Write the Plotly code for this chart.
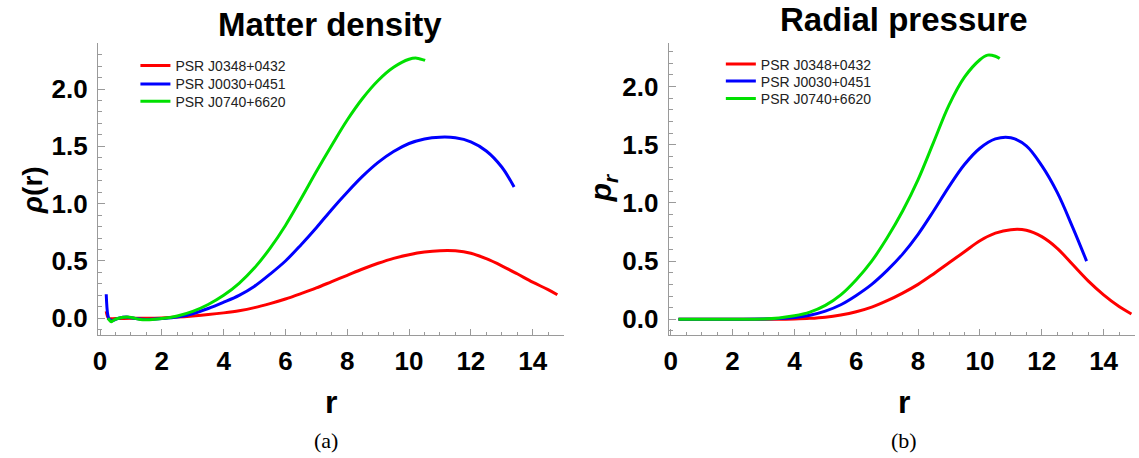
import plotly.graph_objects as go

W, H = 1139, 458

names = ["PSR J0348+0432", "PSR J0030+0451", "PSR J0740+6620"]
colors = ["#ff0000", "#0000ff", "#00e000"]

# ---- Matter density (left panel) ----
rho_red_x = [0.2, 0.28, 0.5, 1.0, 1.5, 2.0, 2.5, 3.0, 3.5, 4.0, 4.5, 5.0, 5.5, 6.0, 6.5, 7.0, 7.5, 8.0, 8.5, 9.0, 9.5, 10.0, 10.5, 11.0, 11.5, 12.0, 12.5, 13.0, 13.5, 14.0, 14.5, 14.8]
rho_red_y = [0.06, 0.0, -0.003, 0.0, 0.0, 0.003, 0.01, 0.02, 0.032, 0.047, 0.066, 0.093, 0.128, 0.168, 0.215, 0.265, 0.32, 0.375, 0.43, 0.48, 0.523, 0.555, 0.578, 0.59, 0.589, 0.568, 0.52, 0.458, 0.388, 0.315, 0.25, 0.205]

rho_blue_x = [0.2, 0.25, 0.3, 0.4, 0.6, 0.85, 1.1, 1.5, 2.0, 2.5, 3.0, 3.5, 4.0, 4.5, 5.0, 5.5, 6.0, 6.5, 7.0, 7.5, 8.0, 8.5, 9.0, 9.5, 10.0, 10.5, 11.0, 11.5, 12.0, 12.5, 13.0, 13.4]
rho_blue_y = [0.21, 0.03, -0.01, -0.02, 0.0, 0.01, 0.0, -0.01, -0.003, 0.01, 0.04, 0.085, 0.14, 0.2, 0.28, 0.385, 0.5, 0.64, 0.79, 0.95, 1.1, 1.24, 1.36, 1.455, 1.525, 1.565, 1.58, 1.575, 1.54, 1.46, 1.32, 1.145]

rho_green_x = [0.25, 0.3, 0.36, 0.45, 0.6, 0.75, 0.9, 1.05, 1.3, 1.6, 2.0, 2.5, 3.0, 3.5, 4.0, 4.5, 5.0, 5.5, 6.0, 6.5, 7.0, 7.5, 8.0, 8.5, 9.0, 9.5, 10.0, 10.25, 10.52]
rho_green_y = [0.0, -0.015, -0.03, -0.015, 0.0, 0.008, 0.012, 0.005, -0.01, -0.012, -0.003, 0.02, 0.06, 0.12, 0.2, 0.305, 0.44, 0.61, 0.81, 1.04, 1.28, 1.51, 1.73, 1.92, 2.075, 2.19, 2.26, 2.27, 2.25]

# ---- Radial pressure (right panel) ----
pr_red_x = [0.25, 1.0, 2.0, 3.0, 3.5, 4.0, 4.5, 5.0, 5.5, 6.0, 6.5, 7.0, 7.5, 8.0, 8.5, 9.0, 9.5, 10.0, 10.5, 11.0, 11.5, 12.0, 12.5, 13.0, 13.5, 14.0, 14.5, 14.9]
pr_red_y = [0.0, 0.0, 0.0, 0.0, 0.001, 0.003, 0.008, 0.018, 0.037, 0.065, 0.105, 0.16, 0.225, 0.30, 0.39, 0.485, 0.58, 0.675, 0.74, 0.77, 0.765, 0.71, 0.61, 0.47, 0.33, 0.21, 0.11, 0.046]

pr_blue_x = [0.25, 1.0, 2.0, 3.0, 3.5, 4.0, 4.5, 5.0, 5.5, 6.0, 6.5, 7.0, 7.5, 8.0, 8.5, 9.0, 9.5, 10.0, 10.5, 11.0, 11.5, 12.0, 12.5, 13.0, 13.45]
pr_blue_y = [0.0, 0.0, 0.0, 0.002, 0.006, 0.015, 0.035, 0.07, 0.125, 0.205, 0.3, 0.42, 0.56, 0.73, 0.93, 1.14, 1.33, 1.47, 1.55, 1.56, 1.49, 1.32, 1.09, 0.79, 0.5]

pr_green_x = [0.25, 1.0, 2.0, 3.0, 3.5, 4.0, 4.5, 5.0, 5.5, 6.0, 6.5, 7.0, 7.5, 8.0, 8.5, 9.0, 9.5, 10.0, 10.25, 10.5, 10.64]
pr_green_y = [0.0, 0.0, 0.0, 0.003, 0.012, 0.03, 0.062, 0.12, 0.21, 0.34, 0.5, 0.7, 0.93, 1.2, 1.52, 1.84, 2.08, 2.23, 2.27, 2.26, 2.24]

x_ticks = [0, 2, 4, 6, 8, 10, 12, 14]
y_ticks = [0.0, 0.5, 1.0, 1.5, 2.0]
y_tick_text = ["0.0", "0.5", "1.0", "1.5", "2.0"]


def px(x):
    return x / W


def py(y):
    return 1 - y / H


fig = go.Figure()

left = [(rho_red_x, rho_red_y), (rho_blue_x, rho_blue_y), (rho_green_x, rho_green_y)]
right = [(pr_red_x, pr_red_y), (pr_blue_x, pr_blue_y), (pr_green_x, pr_green_y)]

# one legend per entry so the rows can be spaced like the reference
leg_rows_left = [66, 84.3, 101.7]
leg_rows_right = [64.5, 81.5, 99]
legend_layout = {}
k = 1
for i, (xs, ys) in enumerate(left):
    lname = "legend" if k == 1 else f"legend{k}"
    fig.add_trace(go.Scatter(x=xs, y=ys, mode="lines", name=names[i],
                             line=dict(color=colors[i], width=3, shape="spline", smoothing=1.0),
                             xaxis="x", yaxis="y", legend=lname))
    legend_layout[lname] = dict(x=px(131), y=py(leg_rows_left[i]), xanchor="left", yanchor="middle")
    k += 1
for i, (xs, ys) in enumerate(right):
    lname = f"legend{k}"
    fig.add_trace(go.Scatter(x=xs, y=ys, mode="lines", name=names[i],
                             line=dict(color=colors[i], width=3, shape="spline", smoothing=1.0),
                             xaxis="x2", yaxis="y2", legend=lname))
    legend_layout[lname] = dict(x=px(719), y=py(leg_rows_right[i]), xanchor="left", yanchor="middle")
    k += 1

for lname, d in legend_layout.items():
    d.update(font=dict(family="Liberation Sans", size=14, color="#222"),
             bgcolor="rgba(0,0,0,0)", borderwidth=0)

tickfont = dict(family="Liberation Sans", size=26, color="black", weight="bold")
axcol = "#9a9a9a"

common_x = dict(range=[-0.07, 15.0], tickmode="array", tickvals=x_ticks, ticks="inside",
                ticklen=6, tickcolor=axcol, showline=True, linecolor=axcol, linewidth=1,
                showgrid=False, zeroline=False, tickfont=tickfont, ticklabelstandoff=3,
                minor=dict(ticks="inside", ticklen=3, dtick=0.5, tick0=0, tickcolor=axcol, showgrid=False))
common_y = dict(tickmode="array", tickvals=y_ticks, ticktext=y_tick_text, ticks="inside",
                ticklen=7, tickcolor=axcol, showline=True, linecolor=axcol, linewidth=1,
                showgrid=False, zeroline=False, tickfont=tickfont, ticklabelstandoff=4,
                minor=dict(ticks="inside", ticklen=4, dtick=0.1, tick0=0, tickcolor=axcol, showgrid=False))

ydom = [py(335), py(43)]

fig.update_layout(
    width=W, height=H,
    margin=dict(l=0, r=0, t=0, b=0),
    paper_bgcolor="white", plot_bgcolor="white",
    xaxis=dict(domain=[px(93.3), px(561)], anchor="y", **common_x),
    yaxis=dict(domain=ydom, anchor="x", range=[-0.146, 2.402], **common_y),
    xaxis2=dict(domain=[px(666.5), px(1134.5)], anchor="y2", **common_x),
    yaxis2=dict(domain=ydom, anchor="x2", range=[-0.135, 2.374], **common_y),
    showlegend=True,
    **legend_layout,
)

ann = [
    dict(text="<b>Matter density</b>", x=px(326), y=py(25), size=33, family="Liberation Sans"),
    dict(text="<b>Radial pressure</b>", x=px(903), y=py(20), size=33, family="Liberation Sans"),
    dict(text="<b>r</b>", x=px(327), y=py(402), size=32, family="Liberation Sans"),
    dict(text="<b>r</b>", x=px(903), y=py(402), size=32, family="Liberation Sans"),
    dict(text="(a)", x=px(322), y=py(440), size=22, family="Liberation Serif"),
    dict(text="(b)", x=px(903), y=py(440), size=22, family="Liberation Serif"),
    dict(text="<b><i>ρ</i>(r)</b>", x=px(28), y=py(190), size=28, family="Liberation Sans", angle=-90),
    dict(text="<b><i>p</i><sub><i>r</i></sub></b>", x=px(600), y=py(188), size=30, family="Liberation Sans", angle=-90),
]
for a in ann:
    fig.add_annotation(text=a["text"], x=a["x"], y=a["y"], xref="paper", yref="paper",
                       xanchor="center", yanchor="middle", showarrow=False,
                       textangle=a.get("angle", 0),
                       font=dict(family=a["family"], size=a["size"], color="black"))

fig.write_html("out.html", config={"displayModeBar": False},
               post_script="document.body.style.margin='0';document.body.style.overflow='hidden';")
